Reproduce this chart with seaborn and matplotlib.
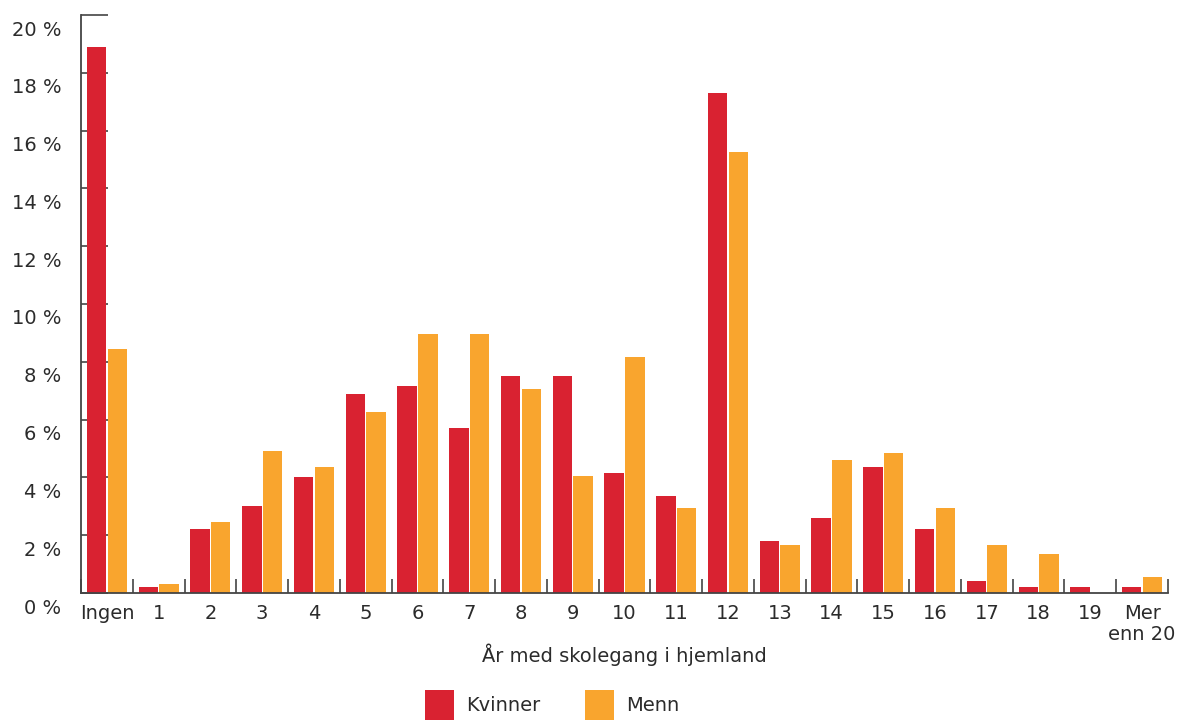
import matplotlib
matplotlib.use("Agg")
import matplotlib.pyplot as plt
import matplotlib.transforms as mtransforms
from matplotlib.ticker import FixedLocator, FuncFormatter
import numpy as np
import pandas as pd
import seaborn as sns

# Years of schooling in the home country, share of each group (%)
categories = ["Ingen", "1", "2", "3", "4", "5", "6", "7", "8", "9", "10",
              "11", "12", "13", "14", "15", "16", "17", "18", "19", "Mer\nenn 20"]
kvinner = [18.9, 0.2, 2.2, 3.0, 4.0, 6.9, 7.15, 5.7, 7.5, 7.5, 4.15,
           3.35, 17.3, 1.8, 2.6, 4.35, 2.2, 0.4, 0.2, 0.2, 0.2]
menn = [8.45, 0.3, 2.45, 4.9, 4.35, 6.25, 8.95, 8.95, 7.05, 4.05, 8.15,
        2.95, 15.25, 1.65, 4.6, 4.85, 2.95, 1.65, 1.35, 0.0, 0.55]
series_names = ["Kvinner", "Menn"]
colors = ["#D92231", "#F9A52E"]
y_ticks = [0, 2, 4, 6, 8, 10, 12, 14, 16, 18, 20]

df = pd.DataFrame({
    "kategori": categories * 2,
    "andel": kvinner + menn,
    "kjonn": [series_names[0]] * len(categories) + [series_names[1]] * len(categories),
})

sns.set_theme(style="white")
plt.rcParams["font.family"] = ["DejaVu Sans"]
text_color = "#2b2b2b"
axis_color = "#444444"
fs = 14

fig = plt.figure(figsize=(11.91, 7.2), dpi=100)
ax = fig.add_axes([81 / 1191, 1 - 593 / 720, (1168 - 81) / 1191, (593 - 15) / 720])

sns.barplot(data=df, x="kategori", y="andel", hue="kjonn", order=categories,
            hue_order=series_names, palette=colors, width=0.8, gap=0.06,
            saturation=1, linewidth=0, ax=ax)

handles, labels = ax.get_legend_handles_labels()
ax.get_legend().remove()

n = len(categories)
ax.set_xlim(-0.5, n - 0.5)
ax.set_ylim(0, 20)

# Spines
for side in ["top", "right"]:
    ax.spines[side].set_visible(False)
for side in ["left", "bottom"]:
    ax.spines[side].set_color(axis_color)
    ax.spines[side].set_linewidth(1.3)

# Y ticks point inward, labels sit a little below their tick
ax.yaxis.set_major_locator(FixedLocator(y_ticks))
ax.yaxis.set_major_formatter(FuncFormatter(lambda v, p: f"{int(v)} %"))
ax.tick_params(axis="y", direction="in", length=19.5, width=1.2, color=axis_color,
               labelsize=fs, labelcolor=text_color, pad=14, left=True)
offset = mtransforms.ScaledTranslation(0, -13 / 100, fig.dpi_scale_trans)
for lbl in ax.get_yticklabels():
    lbl.set_transform(lbl.get_transform() + offset)

# X: labels at group centres, tick marks at group boundaries
ax.set_xticks(range(n))
ax.set_xticklabels(categories, linespacing=1.1)
ax.tick_params(axis="x", which="major", length=0, labelsize=fs,
               labelcolor=text_color, pad=8)
ax.set_xticks(np.arange(-0.5, n, 1.0), minor=True)
ax.tick_params(axis="x", which="minor", direction="in", length=10, width=1.2,
               color=axis_color, bottom=True)

ax.set_xlabel("År med skolegang i hjemland", fontsize=fs, color=text_color,
              labelpad=0)
ax.set_ylabel("")
ax.grid(False)

fig.legend(handles, labels, loc="upper left", bbox_to_anchor=(425 / 1191, 1 - 690 / 720),
           ncol=2, frameon=False, fontsize=fs, labelcolor=text_color,
           handlelength=1.5, handleheight=2.0, handletextpad=0.6,
           columnspacing=2.3, borderaxespad=0, borderpad=0)

fig.savefig("out.png", dpi=100)
